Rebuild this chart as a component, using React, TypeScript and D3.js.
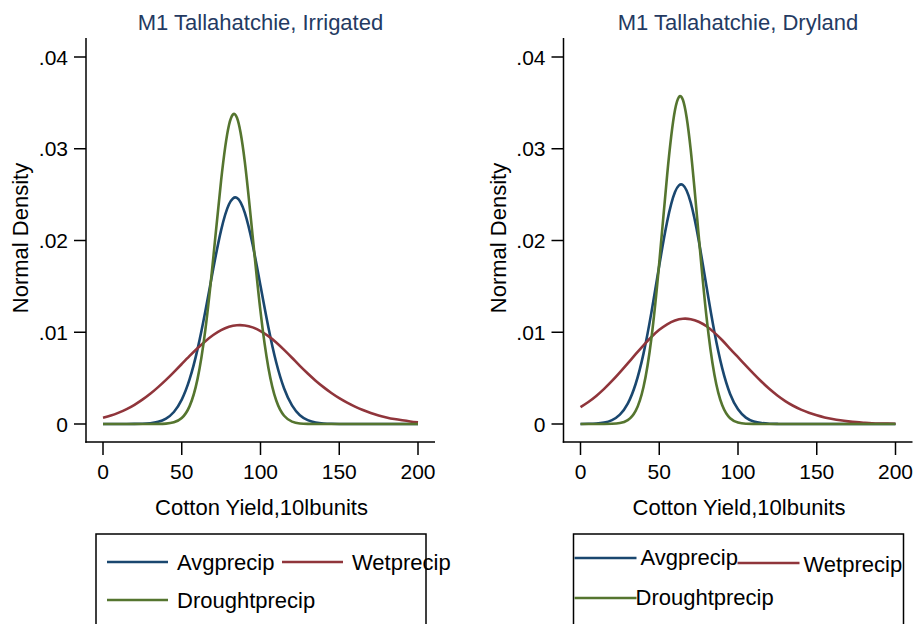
import React from 'react';
import * as d3 from 'd3';

// Cotton yield grid (10 lb units), read every 5 units
const YIELD = [
  0, 5, 10, 15, 20, 25, 30, 35, 40, 45, 50, 55, 60, 65, 70, 75, 80, 85, 90, 95, 100,
  105, 110, 115, 120, 125, 130, 135, 140, 145, 150, 155, 160, 165, 170, 175, 180, 185, 190, 195, 200,
];

// Irrigated panel densities
const IRRIGATED_AVG = [
  0, 0, 0, 0, 0.00001, 0.00003, 0.00009, 0.00024, 0.00059, 0.00131, 0.00266, 0.00488, 0.00813,
  0.01231, 0.01692, 0.02113, 0.02395, 0.02465, 0.02304, 0.01956, 0.01507, 0.01055, 0.0067, 0.00387,
  0.00203, 0.00096, 0.00042, 0.00016, 0.00006, 0.00002, 0, 0, 0, 0, 0, 0, 0, 0, 0, 0, 0,
];
const IRRIGATED_WET = [
  0.00068, 0.00092, 0.00124, 0.00162, 0.00209, 0.00265, 0.00329, 0.00402, 0.00481, 0.00566, 0.00654,
  0.00742, 0.00826, 0.00903, 0.0097, 0.01023, 0.01059, 0.01076, 0.01074, 0.01053, 0.01013, 0.00958,
  0.00889, 0.00808, 0.00722, 0.00633, 0.0055, 0.00472, 0.00402, 0.00338, 0.00282, 0.00233, 0.0019,
  0.00153, 0.00121, 0.00094, 0.00072, 0.00054, 0.0004, 0.00028, 0.00018,
];
const IRRIGATED_DROUGHT = [
  0, 0, 0, 0, 0, 0, 0, 0.00001, 0.00004, 0.00018, 0.00065, 0.00195, 0.00489, 0.01029, 0.01808,
  0.02655, 0.03258, 0.03341, 0.02863, 0.0205, 0.01227, 0.00614, 0.00256, 0.0009, 0.00026, 0.00006,
  0.00001, 0, 0, 0, 0, 0, 0, 0, 0, 0, 0, 0, 0, 0, 0,
];

// Dryland panel densities
const DRYLAND_AVG = [
  0, 0.00002, 0.00005, 0.00015, 0.00042, 0.00102, 0.00222, 0.00436, 0.00767, 0.01214, 0.01726,
  0.02204, 0.02528, 0.02605, 0.02412, 0.02006, 0.01498, 0.01005, 0.00606, 0.00328, 0.0016, 0.0007,
  0.00027, 0.0001, 0.00003, 0.00001, 0, 0, 0, 0, 0, 0, 0, 0, 0, 0, 0, 0, 0, 0, 0,
];
const DRYLAND_WET = [
  0.00184, 0.0024, 0.00306, 0.00383, 0.00469, 0.00563, 0.00661, 0.00761, 0.00858, 0.00948, 0.01026,
  0.01087, 0.01128, 0.01147, 0.01142, 0.01114, 0.01065, 0.00996, 0.00913, 0.0082, 0.00728, 0.00636,
  0.00546, 0.0046, 0.00381, 0.00311, 0.0025, 0.00199, 0.00157, 0.00123, 0.00095, 0.00072, 0.00054,
  0.0004, 0.00029, 0.0002, 0.00014, 0.00009, 0.00006, 0.00004, 0.00002,
];
const DRYLAND_DROUGHT = [
  0, 0, 0, 0, 0.00002, 0.0001, 0.00042, 0.00143, 0.00404, 0.00932, 0.01757, 0.02711, 0.03422,
  0.03534, 0.02985, 0.02063, 0.01167, 0.0054, 0.00204, 0.00063, 0.00016, 0.00003, 0.00001, 0, 0, 0,
  0, 0, 0, 0, 0, 0, 0, 0, 0, 0, 0, 0, 0, 0, 0,
];

const SERIES = ['Avgprecip', 'Wetprecip', 'Droughtprecip'];
const COLORS = ['#1a476f', '#90353b', '#55752f'];
const X_TICKS = [0, 50, 100, 150, 200];
const Y_TICKS = [0, 0.01, 0.02, 0.03, 0.04];
const Y_TICK_LABELS = ['0', '.01', '.02', '.03', '.04'];

const FONT = '"Liberation Sans", Arial, Helvetica, sans-serif';

type LegendSpot = { x1: number; x2: number; y: number; tx: number; ty: number };

interface PanelProps {
  dx: number;
  title: string;
  values: number[][];
  legend: LegendSpot[];
}

const Panel = ({ dx, title, values, legend }: PanelProps) => {
  const axisX = 86;
  const axisY = 442;
  const x = d3.scaleLinear().domain([0, 200]).range([103, 418]);
  const y = d3.scaleLinear().domain([0, 0.04]).range([424, 57]);
  const line = d3
    .line<number>()
    .x((_, i) => x(YIELD[i]))
    .y((d) => y(d))
    .curve(d3.curveNatural);

  return (
    <g transform={`translate(${dx},0)`} fontFamily={FONT}>
      <text x={260.5} y={30} textAnchor="middle" fontSize={22} fill="#243a62">
        {title}
      </text>

      {/* curves */}
      {values.map((v, i) => (
        <path key={SERIES[i]} d={line(v) || ''} fill="none" stroke={COLORS[i]} strokeWidth={2.6} />
      ))}

      {/* y axis */}
      <line x1={axisX} x2={axisX} y1={38} y2={axisY + 0.75} stroke="#000" strokeWidth={1.5} />
      {Y_TICKS.map((t, i) => (
        <g key={t}>
          <line x1={axisX - 12} x2={axisX} y1={y(t)} y2={y(t)} stroke="#000" strokeWidth={1.5} />
          <text x={axisX - 18} y={y(t)} dy="0.36em" textAnchor="end" fontSize={21} fill="#000">
            {Y_TICK_LABELS[i]}
          </text>
        </g>
      ))}
      <text
        transform="translate(28,238) rotate(-90)"
        textAnchor="middle"
        fontSize={22}
        fill="#000"
      >
        Normal Density
      </text>

      {/* x axis */}
      <line x1={axisX - 0.75} x2={435} y1={axisY} y2={axisY} stroke="#000" strokeWidth={1.5} />
      {X_TICKS.map((t) => (
        <g key={t}>
          <line x1={x(t)} x2={x(t)} y1={axisY} y2={axisY + 13} stroke="#000" strokeWidth={1.5} />
          <text x={x(t)} y={479} textAnchor="middle" fontSize={21} fill="#000">
            {t}
          </text>
        </g>
      ))}
      <text x={261.5} y={515} textAnchor="middle" fontSize={22} fill="#000">
        Cotton Yield,10lbunits
      </text>

      {/* legend */}
      <rect x={96} y={534} width={330} height={120} fill="none" stroke="#000" strokeWidth={1.5} />
      {legend.map((s, i) => (
        <g key={SERIES[i]}>
          <line x1={s.x1} x2={s.x2} y1={s.y} y2={s.y} stroke={COLORS[i]} strokeWidth={2.6} />
          <text x={s.tx} y={s.ty} fontSize={22} fill="#000">
            {SERIES[i]}
          </text>
        </g>
      ))}
    </g>
  );
};

const LEFT_LEGEND: LegendSpot[] = [
  { x1: 107, x2: 168, y: 562, tx: 177, ty: 570 },
  { x1: 282, x2: 343, y: 562, tx: 352, ty: 570 },
  { x1: 107, x2: 168, y: 600, tx: 177, ty: 608 },
];

const RIGHT_LEGEND: LegendSpot[] = [
  { x1: 97, x2: 159, y: 558, tx: 163, ty: 565 },
  { x1: 260, x2: 322, y: 563, tx: 326, ty: 572 },
  { x1: 97, x2: 159, y: 598, tx: 158, ty: 605 },
];

export default function App() {
  return (
    <svg
      width={917}
      height={624}
      style={{ position: 'absolute', left: 0, top: 0, background: '#fff' }}
    >
      <rect width={917} height={624} fill="#fff" />
      <Panel
        dx={0}
        title="M1 Tallahatchie, Irrigated"
        values={[IRRIGATED_AVG, IRRIGATED_WET, IRRIGATED_DROUGHT]}
        legend={LEFT_LEGEND}
      />
      <Panel
        dx={477.5}
        title="M1 Tallahatchie, Dryland"
        values={[DRYLAND_AVG, DRYLAND_WET, DRYLAND_DROUGHT]}
        legend={RIGHT_LEGEND}
      />
    </svg>
  );
}
